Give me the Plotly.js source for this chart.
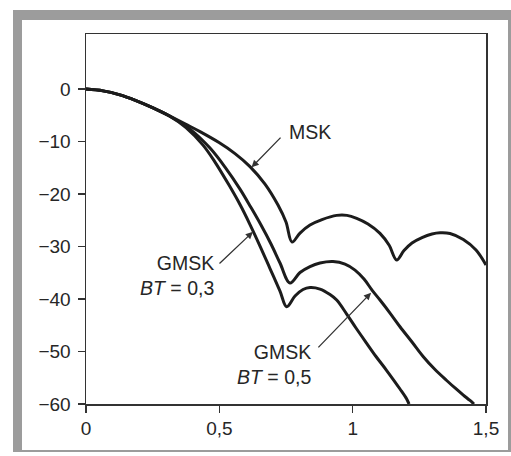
<!DOCTYPE html>
<html>
<head>
<meta charset="utf-8">
<script src="https://cdn.plot.ly/plotly-3.0.1.min.js"></script>
<style>
html,body{margin:0;padding:0;background:#fff;}
#chart{width:511px;height:456px;}
</style>
</head>
<body>
<div id="chart"></div>
<script>
// Normalised frequency (x) and power spectral density in dB (y)
const msk_x = [0, 0.0638, 0.1238, 0.1875, 0.2513, 0.3113, 0.375, 0.4275, 0.4988, 0.5588, 0.615, 0.6713,
  0.72, 0.75, 0.7725,
  0.8025, 0.84, 0.885, 0.9401, 0.9788, 1.0151, 1.0575, 1.1025, 1.1363, 1.1651,
  1.1925, 1.2225, 1.26, 1.2975, 1.3275, 1.365, 1.4149, 1.4625, 1.5];
const msk_y = [0, -0.34, -1.05, -2.19, -3.58, -5.07, -6.72, -8.11, -10.19, -12.29, -14.76, -18.1,
  -22.1, -25.33, -29.14,
  -27.43, -25.9, -24.86, -24.06, -24.06, -24.63, -25.71, -27.49, -29.71, -32.57,
  -30.76, -29.33, -28.29, -27.62, -27.39, -27.52, -28.67, -30.67, -33.52];

const gmsk05_x = [0, 0.0638, 0.1238, 0.1875, 0.2513, 0.3113, 0.39, 0.465, 0.5213, 0.5775, 0.6188, 0.6563,
  0.6938, 0.7275, 0.765,
  0.8025, 0.84, 0.8775, 0.9263, 0.9713, 1.0088, 1.0425, 1.0725, 1.1025, 1.14, 1.1775, 1.2225, 1.2649,
  1.3088, 1.3526, 1.3838, 1.4149, 1.44, 1.455];
const gmsk05_y = [0, -0.34, -1.05, -2.19, -3.58, -5.07, -7.62, -11.24, -14.86, -19.05, -22.57, -25.9,
  -29.52, -33.14, -36.95,
  -34.95, -33.81, -33.14, -32.86, -33.33, -34.48, -36.19, -38.29, -40.19, -42.67, -45.28, -48.19, -50.99,
  -53.43, -55.52, -56.95, -58.29, -59.33, -60];

const gmsk03_x = [0, 0.0638, 0.1238, 0.1875, 0.2513, 0.3113, 0.375, 0.4388, 0.4838, 0.5363, 0.5775, 0.615,
  0.6525, 0.69, 0.7275, 0.7526,
  0.7838, 0.8138, 0.84, 0.8775, 0.915, 0.9401, 0.9776, 1.0125, 1.0526, 1.0875, 1.1276, 1.1775, 1.2026, 1.2113];
const gmsk03_y = [0, -0.34, -1.05, -2.19, -3.58, -5.07, -7.33, -10.67, -13.9, -18.29, -22.0, -25.81,
  -29.9, -34.19, -38.48, -41.47,
  -39.43, -38.19, -37.81, -38.1, -39.14, -40.19, -42.86, -45.52, -48.44, -50.95, -53.62, -57.14, -59.05, -60];

const xTicks = [0, 0.5, 1, 1.5];
const yTicks = [0, -10, -20, -30, -40, -50, -60];

const ink = '#1c1c1c';
const txt = '#262626';
const font = {family: 'Liberation Sans, Arial, sans-serif', size: 19, color: txt};

const line = {color: ink, width: 3, shape: 'spline', smoothing: 1};
const traces = [
  {x: msk_x, y: msk_y, mode: 'lines', line: line, name: 'MSK', hoverinfo: 'skip'},
  {x: gmsk05_x, y: gmsk05_y, mode: 'lines', line: line, name: 'GMSK BT=0,5', hoverinfo: 'skip'},
  {x: gmsk03_x, y: gmsk03_y, mode: 'lines', line: line, name: 'GMSK BT=0,3', hoverinfo: 'skip'}
];

// paper coords helpers (plot area 86..486 px, 34..404 px)
const L = 86, T = 34, W = 400, H = 370;
const px = v => (v - L) / W;
const py = v => (T + H - v) / H;

const arrow = (x, y, ax, ay) => ({
  x: x, y: y, ax: ax, ay: ay, xref: 'x', yref: 'y', axref: 'x', ayref: 'y',
  text: '', showarrow: true, arrowhead: 2, arrowsize: 1.1, arrowwidth: 1.3, arrowcolor: '#333', standoff: 0
});
const label = (text, x, y, anchor) => ({
  x: x, y: y, xref: 'x', yref: 'y', text: text, showarrow: false, align: 'right',
  xanchor: anchor, yanchor: 'middle', font: {family: font.family, size: 19.5, color: txt}
});

const layout = {
  width: 511, height: 456,
  margin: {l: L, r: 511 - L - W, t: T, b: 456 - T - H, pad: 0},
  paper_bgcolor: '#ffffff', plot_bgcolor: 'rgba(0,0,0,0)',
  separators: ', ',
  showlegend: false,
  font: font,
  xaxis: {
    range: [0, 1.5], tickvals: xTicks, ticks: 'outside', ticklen: 7, tickwidth: 1.3, tickcolor: '#333',
    showline: true, linecolor: '#333', linewidth: 1.5, mirror: true, showgrid: false, zeroline: false,
    tickfont: font, fixedrange: true
  },
  yaxis: {
    range: [-60, 10.5], tickvals: yTicks, ticks: 'outside', ticklen: 7, tickwidth: 1.3, tickcolor: '#333',
    showline: true, linecolor: '#333', linewidth: 1.5, mirror: true, showgrid: false, zeroline: false,
    tickfont: font, fixedrange: true, ticklabelstandoff: 3
  },
  shapes: [
    {type: 'rect', xref: 'paper', yref: 'paper', x0: px(13), x1: px(520), y0: py(452), y1: py(10),
      fillcolor: '#9c9c9c', line: {width: 0}, layer: 'below'},
    {type: 'rect', xref: 'paper', yref: 'paper', x0: px(22), x1: px(508), y0: py(450), y1: py(20),
      fillcolor: '#ffffff', line: {width: 0}, layer: 'below'}
  ],
  annotations: [
    arrow(0.621, -14.9, 0.735, -8.95),
    arrow(0.626, -27.2, 0.495, -33.5),
    arrow(1.069, -38.8, 0.866, -49.5),
    label('MSK', 0.752, -8.2, 'left'),
    label('GMSK<br><i>BT</i> = 0,3', 0.4875, -35.6, 'right'),
    label('GMSK<br><i>BT</i> = 0,5', 0.851, -52.4, 'right')
  ]
};

Plotly.newPlot('chart', traces, layout, {staticPlot: true, displayModeBar: false});
</script>
</body>
</html>
